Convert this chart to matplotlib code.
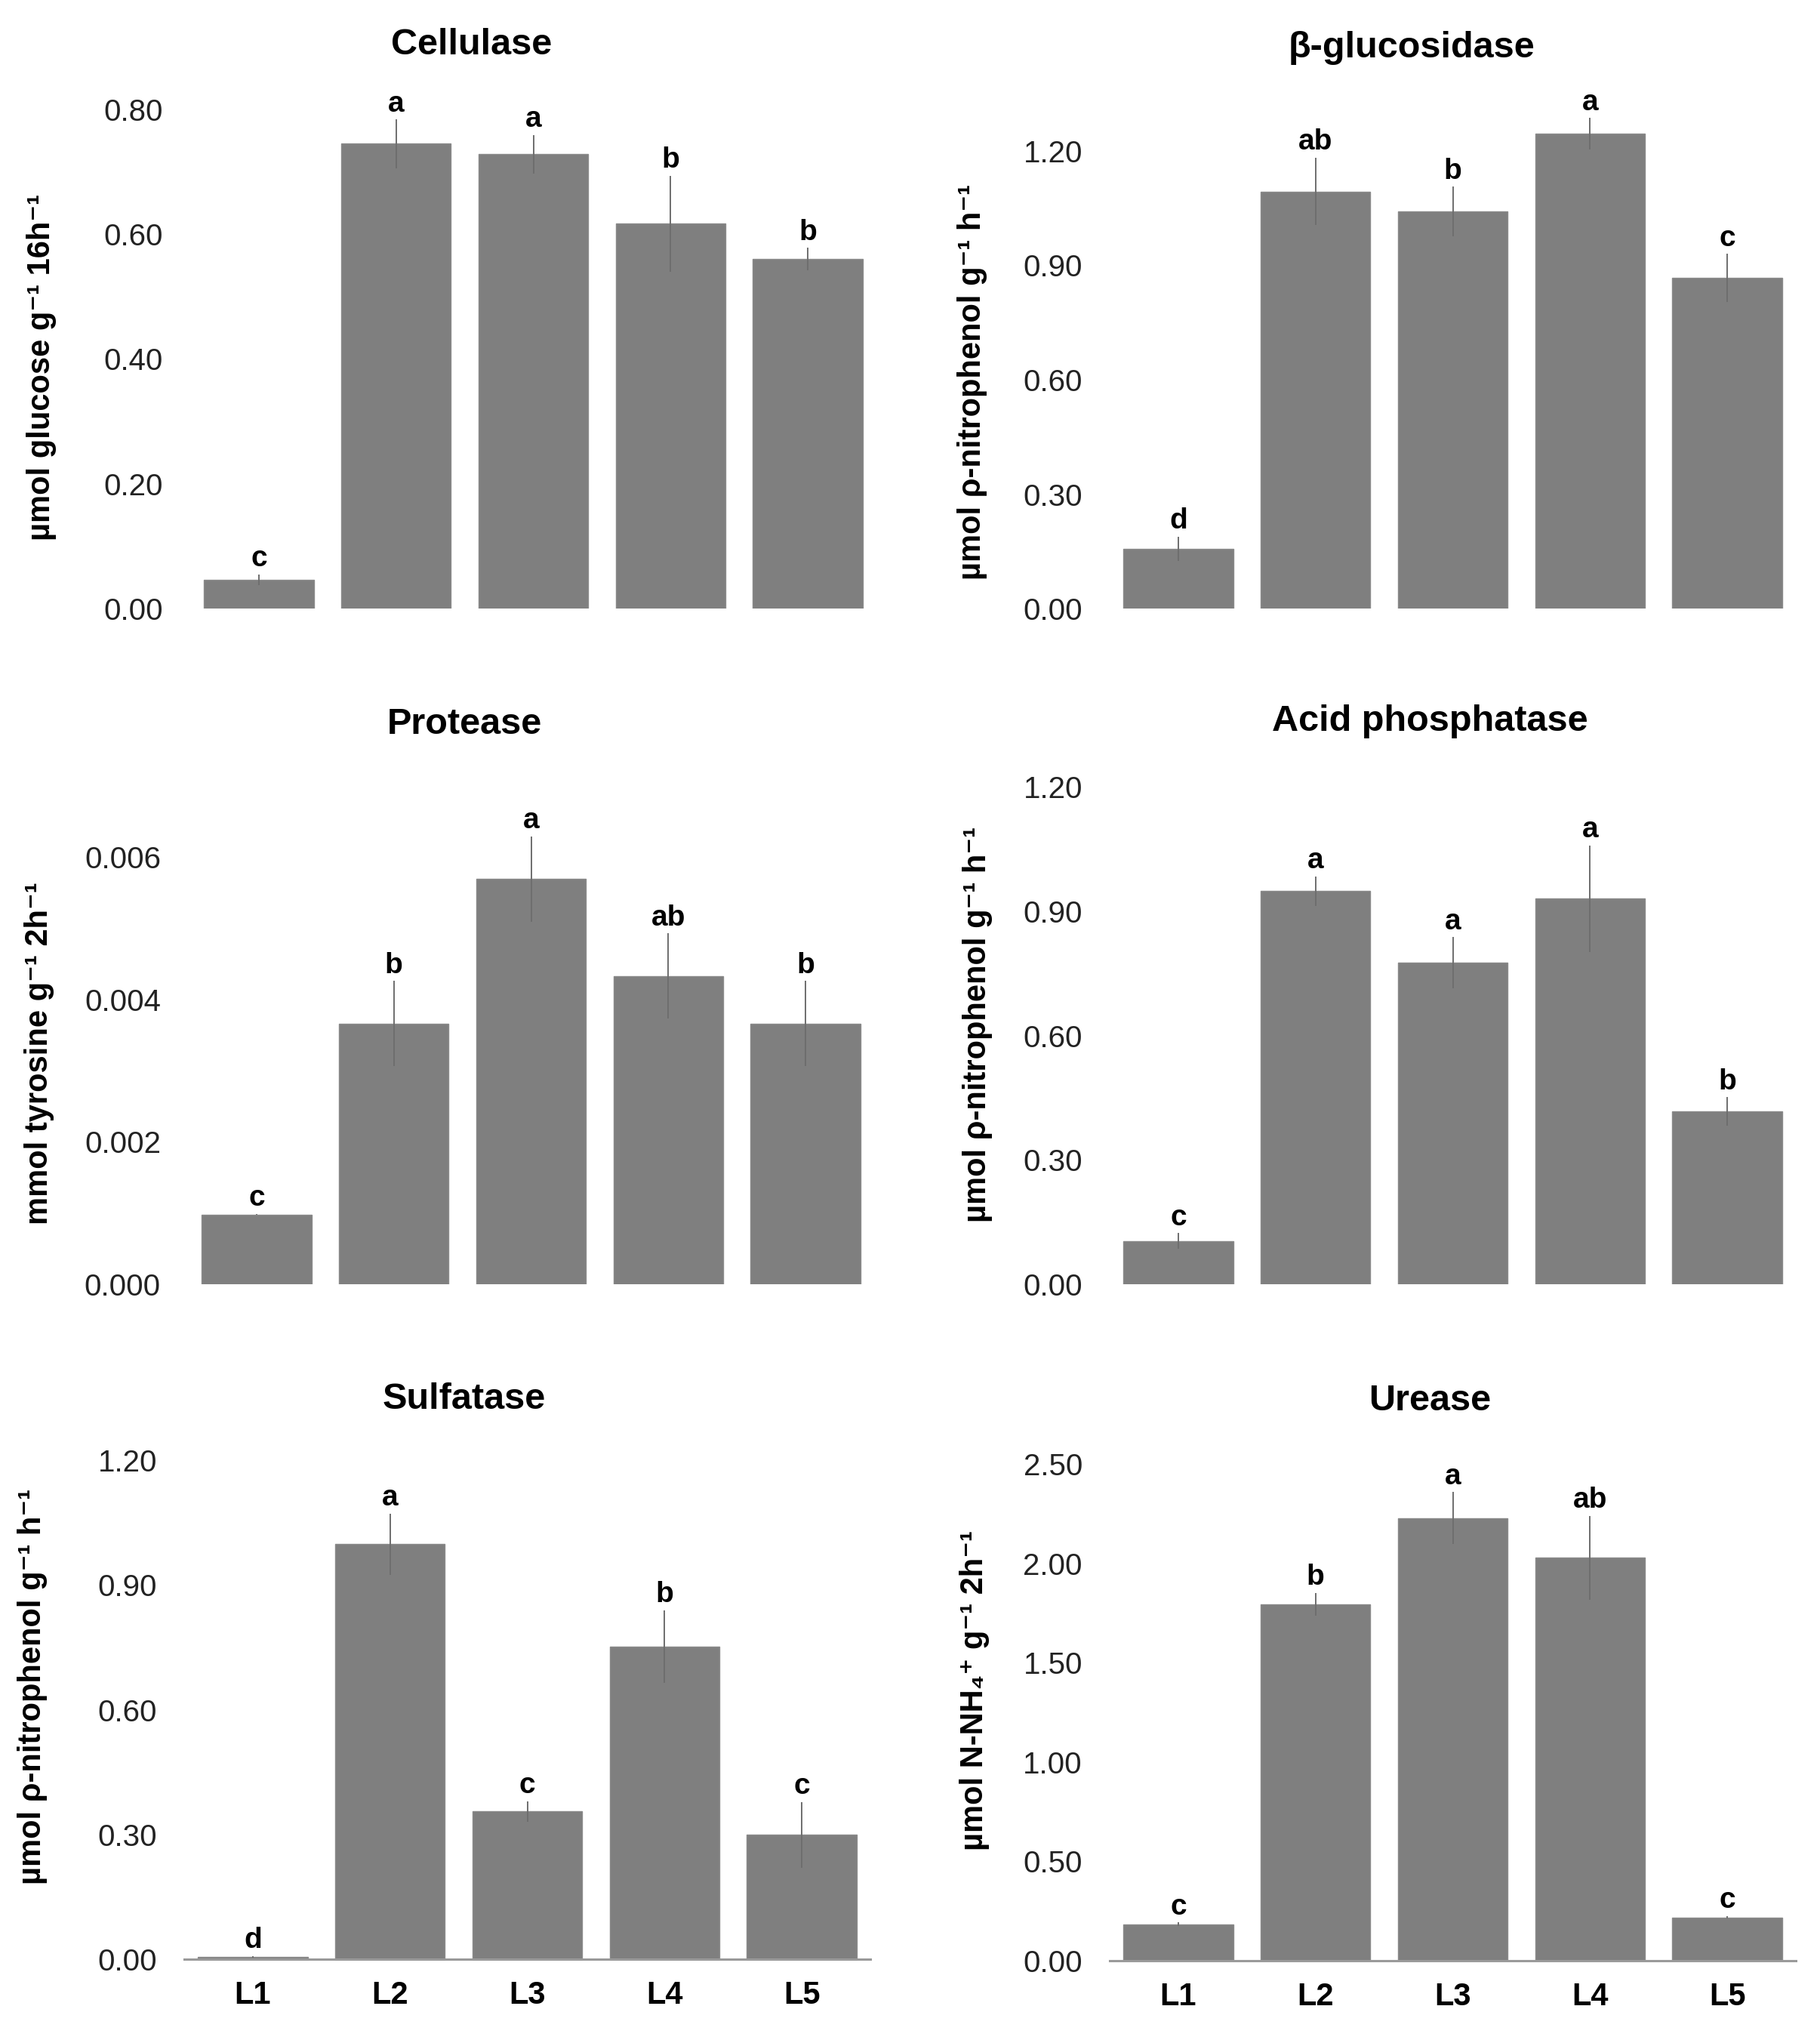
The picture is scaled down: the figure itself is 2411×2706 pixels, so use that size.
import matplotlib
matplotlib.use("Agg")
import matplotlib.pyplot as plt
import numpy as np

plt.rcParams["font.family"] = ["Liberation Sans", "DejaVu Sans"]

sites = ["L1", "L2", "L3", "L4", "L5"]

cellulase = [0.046, 0.745, 0.728, 0.617, 0.560]
cellulase_err = [0.009, 0.039, 0.031, 0.077, 0.018]
cellulase_let = ["c", "a", "a", "b", "b"]

glucosidase = [0.157, 1.094, 1.042, 1.245, 0.867]
glucosidase_err = [0.032, 0.089, 0.065, 0.042, 0.063]
glucosidase_let = ["d", "ab", "b", "a", "c"]

protease = [0.00098, 0.00366, 0.00569, 0.00433, 0.00366]
protease_err = [0.00001, 0.0006, 0.0006, 0.0006, 0.0006]
protease_let = ["c", "b", "a", "ab", "b"]

phosphatase = [0.104, 0.948, 0.775, 0.930, 0.417]
phosphatase_err = [0.019, 0.036, 0.062, 0.128, 0.034]
phosphatase_let = ["c", "a", "a", "a", "b"]

sulfatase = [0.006, 0.998, 0.355, 0.752, 0.299]
sulfatase_err = [0.002, 0.074, 0.025, 0.087, 0.079]
sulfatase_let = ["d", "a", "c", "b", "c"]

urease = [0.183, 1.793, 2.227, 2.028, 0.218]
urease_err = [0.009, 0.057, 0.131, 0.210, 0.007]
urease_let = ["c", "b", "a", "ab", "c"]

W, H = 2411, 2706
fig = plt.figure(figsize=(W / 100, H / 100), dpi=100)

# panel layout in pixels: x0, y of zero, y of top tick, top tick, step,
# title centre, ylabel centre
panels = [
    (cellulase, cellulase_err, cellulase_let, "Cellulase",
     "µmol glucose g⁻¹ 16h⁻¹", 252, 806, 145, 0.80, 0.20, "%.2f",
     (625, 60), (55, 487), False),
    (glucosidase, glucosidase_err, glucosidase_let, "β-glucosidase",
     "µmol ρ-nitrophenol g⁻¹ h⁻¹", 1470, 806, 200, 1.20, 0.30, "%.2f",
     (1870, 64), (1288, 506), False),
    (protease, protease_err, protease_let, "Protease",
     "mmol tyrosine g⁻¹ 2h⁻¹", 249, 1701, 1135, 0.006, 0.002, "%.3f",
     (615, 959), (52, 1395), False),
    (phosphatase, phosphatase_err, phosphatase_let, "Acid phosphatase",
     "µmol ρ-nitrophenol g⁻¹ h⁻¹", 1470, 1701, 1042, 1.20, 0.30, "%.2f",
     (1894, 956), (1295, 1357), False),
    (sulfatase, sulfatase_err, sulfatase_let, "Sulfatase",
     "µmol ρ-nitrophenol g⁻¹ h⁻¹", 244, 2595, 1934, 1.20, 0.30, "%.2f",
     (615, 1853), (43, 2234), True),
    (urease, urease_err, urease_let, "Urease",
     "µmol N-NH₄⁺ g⁻¹ 2h⁻¹", 1470, 2597, 1939, 2.50, 0.50, "%.2f",
     (1894, 1856), (1291, 2239), True),
]

x = np.arange(len(sites))
head = 1.15  # room above the top tick so tall bars are not cut
for (vals, errs, lets, title, ylab, x0, yzero, ytop, tmax, step, fmt,
     tpos, lpos, show_x) in panels:
    h = (yzero - ytop) * head
    ax = fig.add_axes([x0 / W, 1 - yzero / H, 909 / W, h / H])
    ax.bar(x, vals, width=0.8, color="#7f7f7f", edgecolor="#8a8a8a", linewidth=1)
    ax.errorbar(x, vals, yerr=errs, fmt="none", ecolor="#6e6e6e",
                elinewidth=1.4, capsize=0, clip_on=False)
    off = tmax * 0.004
    for xi, v, e, l in zip(x, vals, errs, lets):
        ax.text(xi, v + e + off, l, ha="center", va="bottom",
                fontsize=28, fontweight="bold", clip_on=False)
    ax.set_xlim(-0.5, len(sites) - 0.5)
    ax.set_ylim(0, tmax * head)
    ticks = np.arange(0, tmax + step / 2, step)
    ax.set_yticks(ticks)
    ax.set_yticklabels([fmt % t for t in ticks], fontsize=29, color="#222222")
    ax.tick_params(axis="y", length=0, pad=26)
    for s in ["top", "right", "left"]:
        ax.spines[s].set_visible(False)
    if show_x:
        ax.spines["bottom"].set_color("#9a9a9a")
        ax.spines["bottom"].set_linewidth(2.2)
        ax.set_xticks(x)
        ax.set_xticklabels(sites, fontsize=30, fontweight="bold")
        ax.tick_params(axis="x", length=0, pad=20)
    else:
        ax.spines["bottom"].set_visible(False)
        ax.set_xticks([])
    fig.text(tpos[0] / W, 1 - tpos[1] / H, title, ha="center", va="center",
             fontsize=35, fontweight="bold")
    fig.text(lpos[0] / W, 1 - lpos[1] / H, ylab, ha="center", va="center",
             rotation=90, fontsize=30, fontweight="bold")

fig.savefig("out.png", dpi=100, facecolor="white")
